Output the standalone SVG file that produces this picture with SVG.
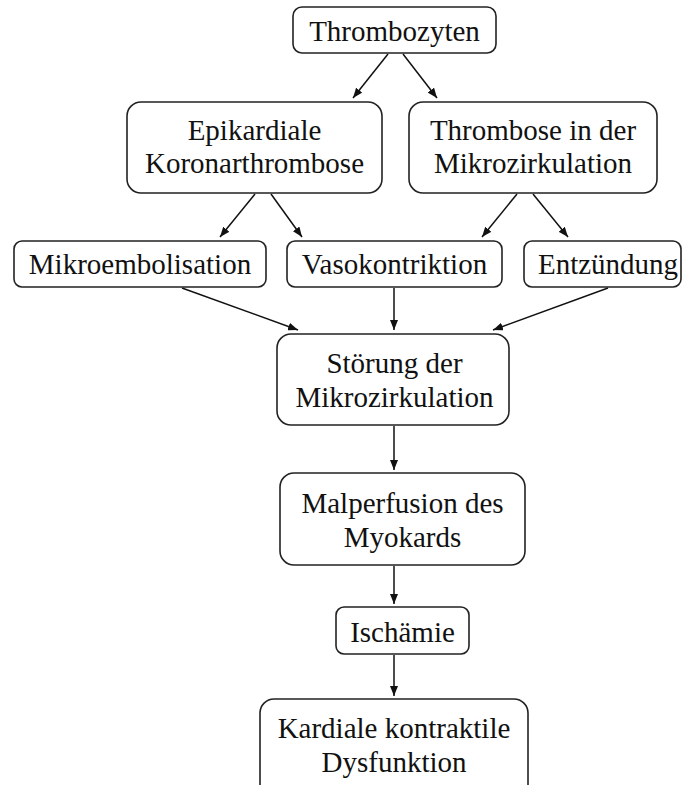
<svg xmlns="http://www.w3.org/2000/svg" width="683" height="785" viewBox="0 0 683 785">
<style>
.box{fill:#fff;stroke:#222;stroke-width:1.6}
.t{font-family:"Liberation Serif","Times New Roman",serif;font-size:29px;fill:#111;text-anchor:middle}
.c{stroke:#111;stroke-width:1.5;fill:none;marker-end:url(#ah)}
</style>
<defs>
<marker id="ah" viewBox="0 0 10 8" refX="10" refY="4" markerWidth="10" markerHeight="8" markerUnits="userSpaceOnUse" orient="auto">
<path d="M0,0 L10,4 L0,8 Z" fill="#111"/>
</marker>
</defs>
<rect width="683" height="785" fill="#fff"/>
<g id="connectors">
<line class="c" x1="388" y1="54" x2="353" y2="98"/>
<line class="c" x1="403" y1="54" x2="437" y2="98"/>
<line class="c" x1="255" y1="194" x2="220" y2="237"/>
<line class="c" x1="271" y1="194" x2="302" y2="237"/>
<line class="c" x1="517" y1="194" x2="482" y2="237"/>
<line class="c" x1="533" y1="194" x2="568" y2="237"/>
<line class="c" x1="182" y1="288" x2="298" y2="330"/>
<line class="c" x1="394" y1="288" x2="394" y2="330"/>
<line class="c" x1="608" y1="288" x2="493" y2="330"/>
<line class="c" x1="394" y1="426" x2="394" y2="470"/>
<line class="c" x1="394" y1="566" x2="394" y2="604"/>
<line class="c" x1="394" y1="655" x2="394" y2="696"/>
</g>
<g id="n1"><rect class="box" x="293" y="7" width="203" height="46" rx="9"/><text class="t" x="394.5" y="41">Thrombozyten</text></g>
<g id="n2"><rect class="box" x="127" y="102" width="255" height="91" rx="14"/><text class="t" x="254.5" y="140">Epikardiale</text><text class="t" x="254.5" y="173">Koronarthrombose</text></g>
<g id="n3"><rect class="box" x="409" y="102" width="248" height="91" rx="14"/><text class="t" x="533" y="140">Thrombose in der</text><text class="t" x="533" y="173">Mikrozirkulation</text></g>
<g id="n4"><rect class="box" x="14" y="241" width="252" height="46" rx="8"/><text class="t" x="140" y="274">Mikroembolisation</text></g>
<g id="n5"><rect class="box" x="287" y="241" width="215" height="46" rx="8"/><text class="t" x="394.5" y="274">Vasokontriktion</text></g>
<g id="n6"><rect class="box" x="524" y="241" width="157" height="46" rx="8"/><text class="t" x="608" y="274">Entzündung</text></g>
<g id="n7"><rect class="box" x="277" y="334" width="232" height="91" rx="14"/><text class="t" x="394.5" y="373">Störung der</text><text class="t" x="394.5" y="407">Mikrozirkulation</text></g>
<g id="n8"><rect class="box" x="280" y="473" width="245" height="92" rx="14"/><text class="t" x="402.5" y="513">Malperfusion des</text><text class="t" x="402.5" y="547">Myokards</text></g>
<g id="n9"><rect class="box" x="336" y="607" width="133" height="47" rx="8"/><text class="t" x="402.5" y="642">Ischämie</text></g>
<g id="n10"><rect class="box" x="260" y="699" width="268" height="100" rx="14"/><text class="t" x="394" y="738">Kardiale kontraktile</text><text class="t" x="394" y="772">Dysfunktion</text></g>
</svg>
